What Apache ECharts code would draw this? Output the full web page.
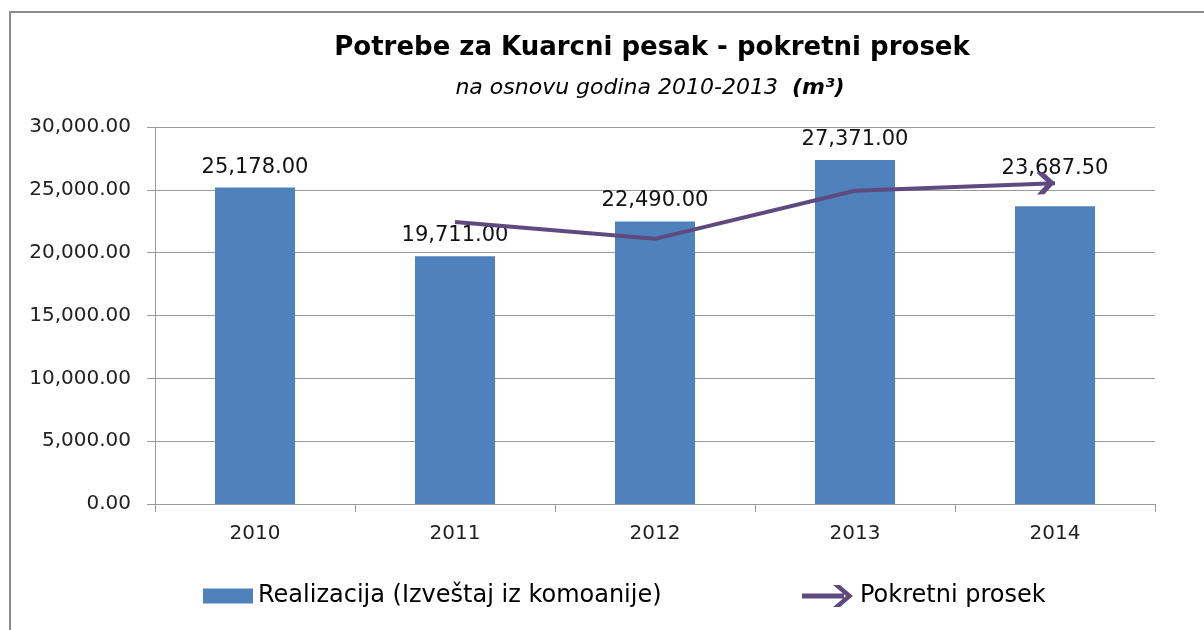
<!DOCTYPE html>
<html>
<head>
<meta charset="utf-8">
<script src="https://cdn.jsdelivr.net/npm/echarts@6/dist/echarts.min.js"></script>
<style>
  html, body { margin: 0; padding: 0; background: #fff; }
  #chart { width: 1204px; height: 630px; }
</style>
</head>
<body>
<div id="chart"></div>
<script>
const years = ['2010', '2011', '2012', '2013', '2014']
const realizacija = [25178, 19711, 22490, 27371, 23687.5]
// pokretni prosek (2 godine), ocitano sa slike
const prosek = [null, 22444.5, 21100.5, 24930.5, 25529.25]
const yTicks = { min: 0, max: 30000, interval: 5000 }

const barName = 'Realizacija (Izveštaj iz komoanije)'
const lineName = 'Pokretni prosek'

const font = 'DejaVu Sans'
const barColor = '#4F81BD'
const lineColor = '#5F4A80'
const gridColor = '#9a9a9a'

const fmt = (v) => Number(v).toLocaleString('en-US', { minimumFractionDigits: 2, maximumFractionDigits: 2 })

const chevron = 'path://M0,0 L7.5,0 L18.5,11 L7.5,22 L0,22 L11,11 Z'
const legendArrow = 'path://M0,8.5 L42,8.5 L42,13.5 L0,13.5 Z M31,0 L38,0 L51,11 L38,22 L31,22 L44,11 Z'

const chart = echarts.init(document.getElementById('chart'), null, { renderer: 'canvas' })

const option = {
  animation: false,
  backgroundColor: '#fff',
  textStyle: { fontFamily: font },
  graphic: [
    {
      type: 'rect',
      shape: { x: 10, y: 12, width: 1400, height: 800 },
      style: { fill: 'none', stroke: '#8c8c8c', lineWidth: 2 },
      silent: true,
      z: -1
    }
  ],
  title: [
    {
      text: 'Potrebe za Kuarcni pesak - pokretni prosek',
      left: 647,
      top: 30,
      textAlign: 'center',
      textStyle: { fontFamily: font, fontSize: 26, fontWeight: 'bold', color: '#000' }
    },
    {
      text: '{i|na osnovu godina 2010-2013  }{b|(m³)}',
      left: 645,
      top: 72,
      textAlign: 'center',
      textStyle: {
        fontWeight: 'normal',
        rich: {
          i: { fontFamily: font, fontSize: 22, fontStyle: 'italic', fontWeight: 'normal', color: '#000' },
          b: { fontFamily: font, fontSize: 22, fontStyle: 'italic', fontWeight: 'bold', color: '#000' }
        }
      }
    }
  ],
  legend: [
    {
      left: 203,
      top: 584,
      padding: 0,
      itemWidth: 50,
      itemHeight: 15,
      data: [{ name: barName, icon: 'rect' }],
      textStyle: { fontFamily: font, fontSize: 24, color: '#000', lineHeight: 24 }
    },
    {
      left: 802,
      top: 584,
      padding: 0,
      itemWidth: 51,
      itemHeight: 22,
      data: [{ name: lineName, icon: legendArrow }],
      textStyle: { fontFamily: font, fontSize: 24, color: '#000', lineHeight: 24, padding: [0, 0, 0, 2] }
    }
  ],
  grid: { left: 155, right: 49, top: 127, bottom: 126 },
  xAxis: {
    type: 'category',
    data: years,
    axisLine: { lineStyle: { color: gridColor, width: 1 } },
    axisTick: { show: true, length: 8, interval: 0, lineStyle: { color: gridColor } },
    axisLabel: { fontFamily: font, fontSize: 20, color: '#222', margin: 20 }
  },
  yAxis: {
    type: 'value',
    min: yTicks.min,
    max: yTicks.max,
    interval: yTicks.interval,
    axisLine: { show: true, lineStyle: { color: gridColor } },
    axisTick: { show: true, length: 8, lineStyle: { color: gridColor } },
    splitLine: { show: true, lineStyle: { color: gridColor, width: 1 } },
    axisLabel: { fontFamily: font, fontSize: 20, color: '#222', margin: 24, formatter: fmt }
  },
  series: [
    {
      name: barName,
      type: 'bar',
      barWidth: 80,
      itemStyle: { color: barColor },
      label: {
        show: true,
        position: 'top',
        distance: 10,
        fontFamily: font,
        fontSize: 21,
        color: '#111',
        formatter: (p) => fmt(p.value)
      },
      data: realizacija.map((v, i) => (i === realizacija.length - 1 ? { value: v, label: { distance: 27 } } : v)),
      z: 2
    },
    {
      name: lineName,
      type: 'line',
      symbol: 'none',
      color: lineColor,
      lineStyle: { color: lineColor, width: 4 },
      itemStyle: { color: lineColor },
      data: prosek.map((v, i) =>
        i === prosek.length - 1
          ? { value: v, symbol: chevron, symbolSize: [18.5, 22], symbolOffset: ['-50%', 0], symbolRotate: 2 }
          : v
      ),
      z: 3
    }
  ]
}

chart.setOption(option)
window.addEventListener('resize', () => chart.resize())
</script>
</body>
</html>
